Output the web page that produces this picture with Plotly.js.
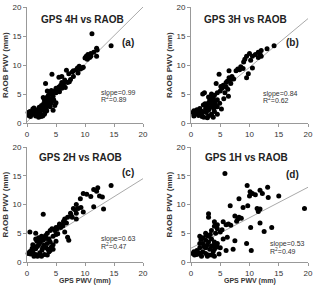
<!DOCTYPE html>
<html><head><meta charset="utf-8">
<script src="https://cdn.plot.ly/plotly-3.0.1.min.js"></script>
<style>html,body{margin:0;padding:0;background:#fff}#chart{width:314px;height:286px}</style>
</head><body><div id="chart"></div>
<script>
// Panel (a) GPS 4H vs RAOB
const a_x = [11.2,14.5,12,12.1,11.5,11,10.5,10.2,10,11,12,10.4,9,8.7,9.2,8.5,8,7.8,9.5,6.8,4.3,7.2,8,6,5.5,7.5,6.5,7,6,3.2,6.3,5.8,6.4,5.5,5,6,5.3,4.8,5,4.5,3.5,3.7,4,3.5,2.8,3,4,4.5,3.2,3.8,4.2,3.5,3,4.8,2.5,2.5,3,2,1.5,1,0.5,0.2,0.3,1,1.5,2,2.3,1.8,2.7,3,2.2,1.2,0.7,2.6,3.3,4,4.5,5,3.8,4.2,4.6,3.6,2.9,1.6,0.9,2.4,3.4,4.4,3.9,5.6,6.6,7.3,8.8,9.7,10.8,2.1,1.3,0.6,3.1,2.7];
const a_y = [15.4,13.3,12.9,12.6,12.2,12,11.8,11.5,11.2,11.5,11.5,11,9.8,9.5,9.3,9.2,9,8.8,9.5,9.1,8.4,8.5,8,8,7.9,7.5,7.4,7,7,6.8,6.8,6.5,6.3,6.2,6,6,5.8,5.5,5.2,5.3,5.5,4.8,5,4.5,4.4,4,4.2,4.6,3.8,3.6,3.5,3.2,3,3,3,2.5,2.2,2.4,2.2,2.4,2,1.8,1.3,1.5,1.2,1,1.6,1.8,1.2,1.5,2,2.6,1.5,2.8,2.6,2.8,2.2,3.5,4.1,5.6,4,4.3,3.4,1.4,1.9,1.1,2.1,3.9,3.1,5.4,6.1,7.1,8.6,9.6,11.3,2.7,2.0,1.1,1.8,2.3];
// Panel (b) GPS 3H vs RAOB
const b_x = [14.2,13,12,11.5,11,10,10.5,12,11.5,9.5,9.2,10.5,9,8.5,8,7.7,8.3,9.8,9.5,7,6.5,4.8,6.5,6.8,6,6.8,4.3,5.5,6,5.3,6.3,5,5.8,4.5,2,2.3,3.5,4,6.4,3,3.8,4.5,3.2,4,3,3.6,4.2,2.8,3.5,4.5,5.2,2.5,3,1.5,1,0.5,2,2.6,1.8,1.3,0.5,0.3,2.2,3,3.5,4,2.8,3.8,4.5,3.3,2.4,1.1,0.8,4.9,5.6,3.7,2.7,1.6,3.1,4.1,5.1,6.2,7.3,8.9,10.2,11.8,2.1,1.9,0.6,3.9];
const b_y = [13.3,12.8,12.5,12.2,11.8,12,11.5,11.5,11.3,11.5,11,9.5,10.5,9.7,9.3,9,9.2,8.5,7.8,8,9,8.4,7.8,7.5,7,6.8,6.8,6.5,6.2,6,5.8,5.5,5.2,5.2,5,5.2,5,4.8,4.6,4.5,4.3,4,4,3.8,3.5,3.2,3,3,2.8,2.8,2.4,2.5,2.2,2.5,2.3,2.1,2,1.8,1.5,1.3,1.2,1.8,1,1.2,1.5,2,0.9,1,1.5,3.8,3.3,1.7,1.6,3.4,4.2,4.4,2.7,2.1,2.6,3.6,6.3,7.2,7.6,9.4,10.8,11.9,3.1,1.1,1.5,2.4];
// Panel (c) GPS 2H vs RAOB
const c_x = [14.5,12.2,12,11.5,11,12.5,13,9.7,9.2,13.2,11.5,8.5,9.3,8,8.3,8.5,7.5,9.7,2.8,7,6.5,7.8,8.5,6,5.5,5.8,6.8,6.2,5,5.2,4,4.3,0.5,1.5,4.8,3.5,6.5,7,7.2,2.5,2,3,1.5,4.5,5,3.8,2.8,4,5,3.5,1,2,1.8,4.5,2.7,1.5,3.3,0.8,0.2,1,1.5,2.2,2.5,3,3.5,1.8,0.5,4,4.5,3.8,2.6,1.2,2.3,3.2,1.7,0.9,2.9,3.6,4.2,5.6,6.3,7.6,8.8,10.3,1.3,2.1,2.4,3.4,0.6,5.3];
const c_y = [13.3,12.9,12.3,12.6,11.4,11.5,11.3,11.9,11,9.2,9.6,10,9.5,9.3,9.1,8.5,8.5,8.7,8.3,7.8,7.5,7.8,7.5,6.5,6.2,6,6.8,6.3,6,5.8,5.5,5.8,5.2,5,5.5,5,5.2,4.3,3.8,4.5,4.2,4.2,4,4.5,4.8,4,3.8,3.5,3.6,3.2,3,3,2.7,3,2.5,2.3,2.5,2,1.5,1.8,1.3,1.6,1,1.3,1.2,1,1.8,2,2.2,1.8,2.1,1,3.4,4.6,3.6,2.4,2.9,2.2,2.6,6.6,7.1,8.1,9.3,11.8,2.7,1.2,3.9,4.1,1.4,4.9];
// Panel (d) GPS 1H vs RAOB
const d_x = [5.8,9.6,13.1,10.1,11.8,10.5,8.2,10,11,12.2,13.2,15,19.4,11.3,11.8,11.5,9.7,8.9,6.7,3,3,7.5,8,8.2,7.8,4,4.5,5.5,6,6.8,11.8,10.2,12.5,13.8,4,4.5,3.5,4.2,5,2.5,1.5,2,3,6.2,5.5,7.5,9.5,10.3,7.2,6,3.5,2.5,3,4,2,1.5,2.8,3.5,4.5,5,2.5,3.2,4,1.5,1,0.5,0.3,1,1.5,2,2.5,3,3.5,4,3.8,1.8,0.8,2.8,4.5,5.3,3.3,2.2,1.2,4.8,3.9,2.6,0.6,1.7,8.6,6.4];
const d_y = [15.4,13.3,13,12.2,12.5,11.9,11,11.5,11.7,11.9,11.2,11.5,9.3,9.3,9.2,8.8,9.8,9.5,9.8,8.4,7.8,8,7.5,7.8,7.1,7,6.5,7,6.5,6.4,6.8,6,5.3,6,6.2,5.8,5.5,5,5.2,5,4.5,4.2,4.5,4.3,4,3.7,3.2,2,2.2,2,4,3.8,3.5,3.5,3.2,3.2,3,2.8,2.6,2.5,2.5,2.2,2.2,2.5,2,1.8,1.5,1.3,1.5,1.8,1.5,1.2,1.2,1,1.8,1,1.5,1,3.2,5.6,4.8,2.7,1.7,1.4,2.9,4.6,1.2,3.9,7.6,6.6];

const slopes = [0.99, 0.84, 0.63, 0.53];
const intercepts = [0.2, 1.2, 1.9, 2.4];
const r2 = ['0.89', '0.62', '0.47', '0.49'];
const titles = ['GPS 4H vs RAOB', 'GPS 3H vs RAOB', 'GPS 2H vs RAOB', 'GPS 1H vs RAOB'];
const tags = ['(a)', '(b)', '(c)', '(d)'];
const tickVals = [0, 5, 10, 15, 20];
const lineX = [0, 20];

const xs = [a_x, b_x, c_x, d_x];
const ys = [a_y, b_y, c_y, d_y];
const W = 314, H = 286;
// pixel boxes [left,right,top,bottom]
const boxes = [[27,143,7,123],[191,308,7,123],[27,143,147,262],[191,308,147,262]];
const titlePos = [[2.0,17.9],[1.9,17.9],[1.7,18.2],[2.1,18.1]];
const tagPos = [[17.4,13.8],[17.4,13.8],[17.4,15.5],[17.4,15.3]];
const slopePos = [[12.4,5.2,4.1],[12.0,5.0,4.0],[12.4,4.0,2.7],[13.2,3.1,2.0]];

const data = [];
const layout = {width:W, height:H, margin:{l:0,r:0,t:0,b:0}, showlegend:false,
  paper_bgcolor:'#fff', plot_bgcolor:'#fff', annotations:[],
  font:{family:'Liberation Sans, Arial, sans-serif', color:'#333'}};
const tf = {family:'Liberation Sans, Arial, sans-serif', size:8, color:'#333'};
for (let i=0;i<4;i++){
  const sx = i===0?'':String(i+1);
  const xa='x'+sx, ya='y'+sx;
  data.push({type:'scatter', mode:'lines', x:lineX, y:lineX.map(v=>slopes[i]*v+intercepts[i]),
    xaxis:xa, yaxis:ya, line:{color:'#aaa', width:1}});
  data.push({type:'scatter', mode:'markers', x:xs[i], y:ys[i], xaxis:xa, yaxis:ya,
    marker:{color:'#000', size:5}, cliponaxis:false});
  const b = boxes[i];
  const axCommon = {range:[0,20], tickvals:tickVals, showgrid:false, zeroline:false, showline:true,
    linecolor:'#999', linewidth:1, ticks:'outside', ticklen:3, tickcolor:'#999', tickfont:tf, fixedrange:true};
  layout['xaxis'+sx] = Object.assign({}, axCommon, {domain:[b[0]/W, b[1]/W], anchor:ya});
  layout['yaxis'+sx] = Object.assign({}, axCommon, {domain:[1-b[3]/H, 1-b[2]/H], anchor:xa});
  const A = layout.annotations;
  A.push({xref:xa, yref:ya, x:titlePos[i][0], y:titlePos[i][1], xanchor:'left', yanchor:'middle',
    text:'<b>'+titles[i]+'</b>', showarrow:false, font:{family:'Liberation Sans, Arial', size:10, color:'#222'}});
  A.push({xref:xa, yref:ya, x:tagPos[i][0], y:tagPos[i][1], xanchor:'center', yanchor:'middle',
    text:'<b>'+tags[i]+'</b>', showarrow:false, font:{family:'Liberation Sans, Arial', size:10, color:'#222'}});
  A.push({xref:xa, yref:ya, x:slopePos[i][0], y:slopePos[i][1], xanchor:'left', yanchor:'middle',
    text:'slope='+slopes[i].toFixed(2), showarrow:false, font:{family:'Liberation Sans, Arial', size:7, color:'#333'}});
  A.push({xref:xa, yref:ya, x:slopePos[i][0], y:slopePos[i][2], xanchor:'left', yanchor:'middle',
    text:'R<sup>2</sup>='+r2[i], showarrow:false, font:{family:'Liberation Sans, Arial', size:7, color:'#333'}});
  A.push({xref:'paper', yref:'paper', x:(b[0]-22)/W, y:1-((b[2]+b[3])/2)/H, xanchor:'center', yanchor:'middle',
    textangle:-90, text:'<b>RAOB PWV (mm)</b>', showarrow:false, font:{family:'Liberation Sans, Arial', size:8, color:'#333'}});
  if (i>=2) A.push({xref:'paper', yref:'paper', x:((b[0]+b[1])/2)/W, y:0, xanchor:'center', yanchor:'bottom',
    text:'<b>GPS PWV (mm)</b>', showarrow:false, borderpad:0, font:{family:'Liberation Sans, Arial', size:7, color:'#333'}});
}
Plotly.newPlot('chart', data, layout, {staticPlot:true, displayModeBar:false});
</script></body></html>
